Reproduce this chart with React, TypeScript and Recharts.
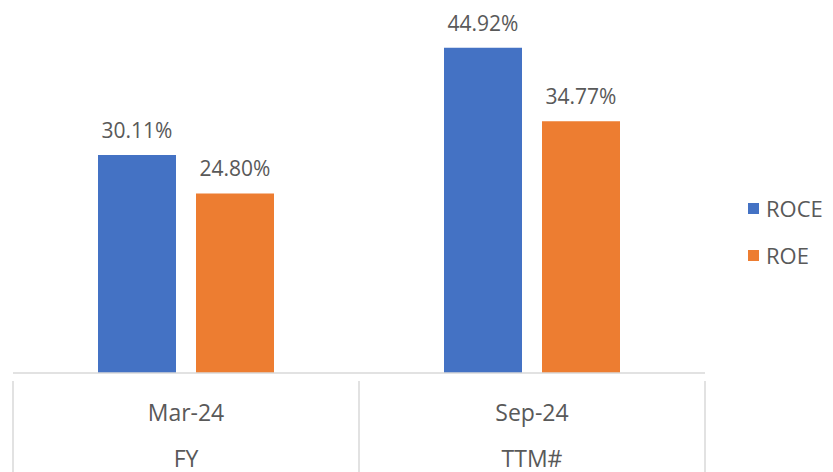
import { BarChart, Bar, XAxis, YAxis, LabelList } from 'recharts';

const periods = ['Mar-24', 'Sep-24'];
const periodTypes = ['FY', 'TTM#'];
const roce = [30.11, 44.92];
const roe = [24.8, 34.77];

const data = periods.map((p, i) => ({ period: p, kind: periodTypes[i], roce: roce[i], roe: roe[i] }));

const W = 833;
const H = 472;
const margin = { top: 11, right: 128, bottom: 0, left: 13 };
const axisH = 99;
const font = '"Open Sans", Roboto, sans-serif';
const lineColor = '#d9d9d9';
const textColor = '#595959';

const CategoryTick = (props: any) => {
  const { x, y, payload, index } = props;
  const half = (W - margin.left - margin.right) / periods.length / 2;
  return (
    <g>
      <line x1={x - half} y1={y} x2={x - half} y2={H} stroke={lineColor} strokeWidth={1.5} />
      {index === periods.length - 1 && (
        <line x1={x + half} y1={y} x2={x + half} y2={H} stroke={lineColor} strokeWidth={1.5} />
      )}
      <text x={x} y={y + 40} textAnchor="middle" fill={textColor} fontSize={23} fontFamily={font}>
        {payload.value}
      </text>
      <text x={x} y={y + 86} textAnchor="middle" fill={textColor} fontSize={23} fontFamily={font}>
        {periodTypes[index]}
      </text>
    </g>
  );
};

const fmt = (v: any) => `${Number(v).toFixed(2)}%`;

const legendItems = [
  { name: 'ROCE', color: '#4472C4' },
  { name: 'ROE', color: '#ED7D31' },
];

export default function App() {
  return (
    <div style={{ position: 'absolute', left: 0, top: 0, width: W, height: H, background: '#fff' }}>
      <BarChart width={W} height={H} data={data} margin={margin} barCategoryGap={85} barGap={20}>
        <XAxis
          dataKey="period"
          height={axisH}
          axisLine={{ stroke: lineColor, strokeWidth: 1.5 }}
          tickLine={false}
          tick={<CategoryTick />}
          interval={0}
        />
        <YAxis hide domain={[0, 50]} />
        <Bar dataKey="roce" fill="#4472C4" isAnimationActive={false}>
          <LabelList dataKey="roce" position="top" offset={17} formatter={fmt} fill={textColor} fontSize={21} fontFamily={font} />
        </Bar>
        <Bar dataKey="roe" fill="#ED7D31" isAnimationActive={false}>
          <LabelList dataKey="roe" position="top" offset={17} formatter={fmt} fill={textColor} fontSize={21} fontFamily={font} />
        </Bar>
      </BarChart>
      <div style={{ position: 'absolute', left: 748, top: 194, fontFamily: font, fontSize: 22, color: textColor }}>
        {legendItems.map((it) => (
          <div key={it.name} style={{ display: 'flex', alignItems: 'center', height: 28, marginBottom: 19 }}>
            <span style={{ width: 11, height: 11, background: it.color, marginRight: 7 }} />
            {it.name}
          </div>
        ))}
      </div>
    </div>
  );
}
